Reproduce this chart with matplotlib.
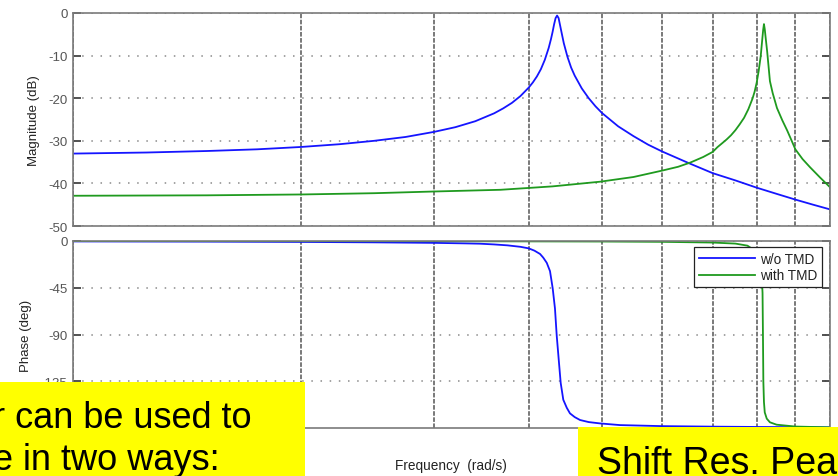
import matplotlib
matplotlib.use("Agg")
import matplotlib.pyplot as plt
from matplotlib.patches import Rectangle
from matplotlib.ticker import LogLocator, NullFormatter

plt.rcParams['font.family'] = ['Liberation Sans', 'DejaVu Sans']

# ---- frequency response data (rad/s, dB, deg) ----
freq_plain_mag = [1.0, 1.25, 1.5, 1.75, 2.0, 2.25, 2.5, 2.75, 3.0, 3.2, 3.4,
                  3.6, 3.7, 3.8, 3.9, 4.0, 4.05, 4.1, 4.15, 4.2, 4.25, 4.28,
                  4.3, 4.32, 4.34, 4.36, 4.38, 4.40, 4.42, 4.45, 4.5, 4.55,
                  4.6, 4.7, 4.8, 4.9, 5.0, 5.25, 5.5, 5.75, 6.0, 6.5, 7.0,
                  7.5, 8.0, 8.5, 9.0, 9.5, 10.0]
mag_plain = [-33.0, -32.75, -32.4, -32.0, -31.45, -30.8, -30.0, -29.1, -27.9,
             -26.8, -25.4, -23.55, -22.4, -21.1, -19.5, -17.5, -16.3, -14.9,
             -13.2, -11.0, -8.2, -6.1, -4.5, -2.7, -1.2, -0.6, -1.2, -2.9,
             -4.6, -7.1, -10.3, -12.8, -14.7, -17.7, -20.0, -21.9, -23.5,
             -26.6, -28.9, -30.9, -32.5, -35.2, -37.6, -39.3, -41.0, -42.45,
             -43.8, -45.0, -46.1]

freq_plain_ph = [1.0, 1.5, 2.0, 2.5, 3.0, 3.3, 3.45, 3.6, 3.75, 3.9, 4.0,
                 4.07, 4.14, 4.18, 4.225, 4.267, 4.302, 4.332, 4.355, 4.385,
                 4.408, 4.443, 4.49, 4.534, 4.6, 4.675, 4.8, 4.97, 5.28, 6.0,
                 7.0, 8.0, 10.0]
phase_plain = [-0.4, -0.6, -0.9, -1.3, -1.8, -2.3, -2.6, -3.3, -4.2, -5.6,
               -7.1, -9.3, -12.5, -16.0, -21.0, -29.0, -45.5, -65.0, -91.0,
               -117.0, -136.6, -152.8, -160.5, -165.9, -169.5, -172.3,
               -174.3, -175.6, -177.2, -178.2, -178.7, -179.0, -179.4]

freq_tmd_mag = [1.0, 1.5, 2.0, 2.5, 3.0, 3.67, 4.3, 4.97, 5.5, 6.0, 6.3,
                6.54, 6.8, 7.0, 7.1, 7.2, 7.3, 7.4, 7.5, 7.6, 7.7, 7.8, 7.9,
                7.95, 8.0, 8.05, 8.1, 8.14, 8.16, 8.18, 8.2, 8.22, 8.26, 8.3,
                8.33, 8.4, 8.51, 8.65, 8.78, 8.9, 9.0, 9.2, 9.41, 9.7, 10.0]
mag_tmd = [-42.9, -42.8, -42.6, -42.3, -41.9, -41.5, -40.7, -39.6, -38.5,
           -37.0, -36.1, -35.1, -33.8, -32.6, -31.5, -30.6, -29.7, -28.7,
           -27.5, -26.1, -24.6, -22.6, -20.1, -18.5, -16.4, -13.6, -10.1,
           -6.0, -4.0, -2.6, -3.8, -5.6, -9.0, -13.0, -16.0, -18.8, -22.3,
           -25.2, -27.6, -30.0, -32.0, -34.3, -36.2, -38.6, -40.9]

freq_tmd_ph = [1.0, 3.0, 5.0, 6.0, 7.0, 7.5, 7.78, 7.99, 8.05, 8.1, 8.13,
               8.145, 8.155, 8.165, 8.18, 8.2, 8.25, 8.33, 8.5, 9.0, 10.0]
phase_tmd = [-0.1, -0.2, -0.5, -0.8, -1.5, -2.5, -4.5, -10.0, -15.0, -25.0,
             -38.0, -50.0, -90.0, -135.0, -155.0, -165.0, -171.0, -174.5,
             -176.8, -178.6, -179.4]

series_labels = ["w/o TMD", "with TMD"]
mag_ticks = [0, -10, -20, -30, -40, -50]
phase_ticks = [0, -45, -90, -135]

BLUE = '#1515ff'
GREEN = '#1f9a1f'
GRID_V = '#555555'
GRID_H = '#8a8a8a'
FRAME = '#7a7a7a'

fig = plt.figure(figsize=(8.38, 4.77), dpi=100)
W, H = 838.0, 477.0

ax_mag = fig.add_axes([73 / W, (H - 227) / H, 757 / W, 213 / H])
ax_ph = fig.add_axes([73 / W, (H - 429) / H, 757 / W, 187 / H])


def style_axes(ax, ylim, yticks, ylabel):
    ax.set_xscale('log')
    ax.set_xlim(1, 10)
    ax.set_ylim(*ylim)
    ax.set_yticks(yticks)
    ax.set_yticklabels([str(t) for t in yticks])
    ax.xaxis.set_major_locator(LogLocator(base=10))
    ax.xaxis.set_minor_locator(LogLocator(base=10, subs=range(2, 10)))
    ax.xaxis.set_major_formatter(NullFormatter())
    ax.xaxis.set_minor_formatter(NullFormatter())
    ax.tick_params(axis='x', which='both', length=0)
    ax.tick_params(axis='y', which='major', direction='in', length=6,
                   width=1.3, color='#444444', labelsize=9.5,
                   labelcolor='#555555', left=True, right=True, pad=4)
    ax.grid(True, which='both', axis='x', color=GRID_V, linestyle=(0, (3, 1)),
            linewidth=1.1)
    ax.grid(True, which='major', axis='y', color=GRID_H, linestyle=(0, (1, 5)),
            linewidth=1.1)
    ax.set_axisbelow(True)
    for sp in ax.spines.values():
        sp.set_color(FRAME)
        sp.set_linewidth(1.2)
    ax.set_ylabel(ylabel, fontsize=9.5, color='#222222')


style_axes(ax_mag, (-50, 0), mag_ticks, 'Magnitude (dB)')
style_axes(ax_ph, (-180, 0), phase_ticks, 'Phase (deg)')
ax_mag.yaxis.set_label_coords(-33 / 757, 0.5)
ax_ph.yaxis.set_label_coords(-41 / 757, 0.5)

ax_mag.plot(freq_plain_mag, mag_plain, color=BLUE, lw=1.3)
ax_mag.plot(freq_tmd_mag, mag_tmd, color=GREEN, lw=1.3)

ax_ph.plot(freq_plain_ph, phase_plain, color=BLUE, lw=1.3, label=series_labels[0])
ax_ph.plot(freq_tmd_ph, phase_tmd, color=GREEN, lw=1.3, label=series_labels[1])

leg = ax_ph.legend(loc='upper right', bbox_to_anchor=(749 / 757, 1 - 6 / 187),
                   borderaxespad=0, fontsize=9.8, handlelength=4.1,
                   handletextpad=0.4, labelspacing=0.2, borderpad=0.35,
                   fancybox=False, framealpha=1)
leg.get_frame().set_edgecolor('#222222')
leg.get_frame().set_linewidth(0.9)
for txt in leg.get_texts():
    txt.set_color('#222222')

fig.text(451 / W, (H - 466) / H, 'Frequency  (rad/s)', fontsize=9.8,
         ha='center', va='center', color='#222222')

# yellow call-out boxes
fig.add_artist(Rectangle((0, 0), 305 / W, (H - 383) / H,
                         transform=fig.transFigure, facecolor='#ffff00',
                         edgecolor='none', zorder=10))
fig.add_artist(Rectangle((578 / W, 0), (W - 578) / W, (H - 428) / H,
                         transform=fig.transFigure, facecolor='#ffff00',
                         edgecolor='none', zorder=10))
fig.text(-7 / W, (H - 428) / H, 'r can be used to', fontsize=26,
         ha='left', va='baseline', color='black', zorder=11)
fig.text(-7 / W, (H - 470) / H, 'e in two ways:', fontsize=26,
         ha='left', va='baseline', color='black', zorder=11)
fig.text(597 / W, (H - 474) / H, 'Shift Res. Peak', fontsize=27,
         ha='left', va='baseline', color='black', zorder=11)

fig.savefig('out.png', dpi=100)
